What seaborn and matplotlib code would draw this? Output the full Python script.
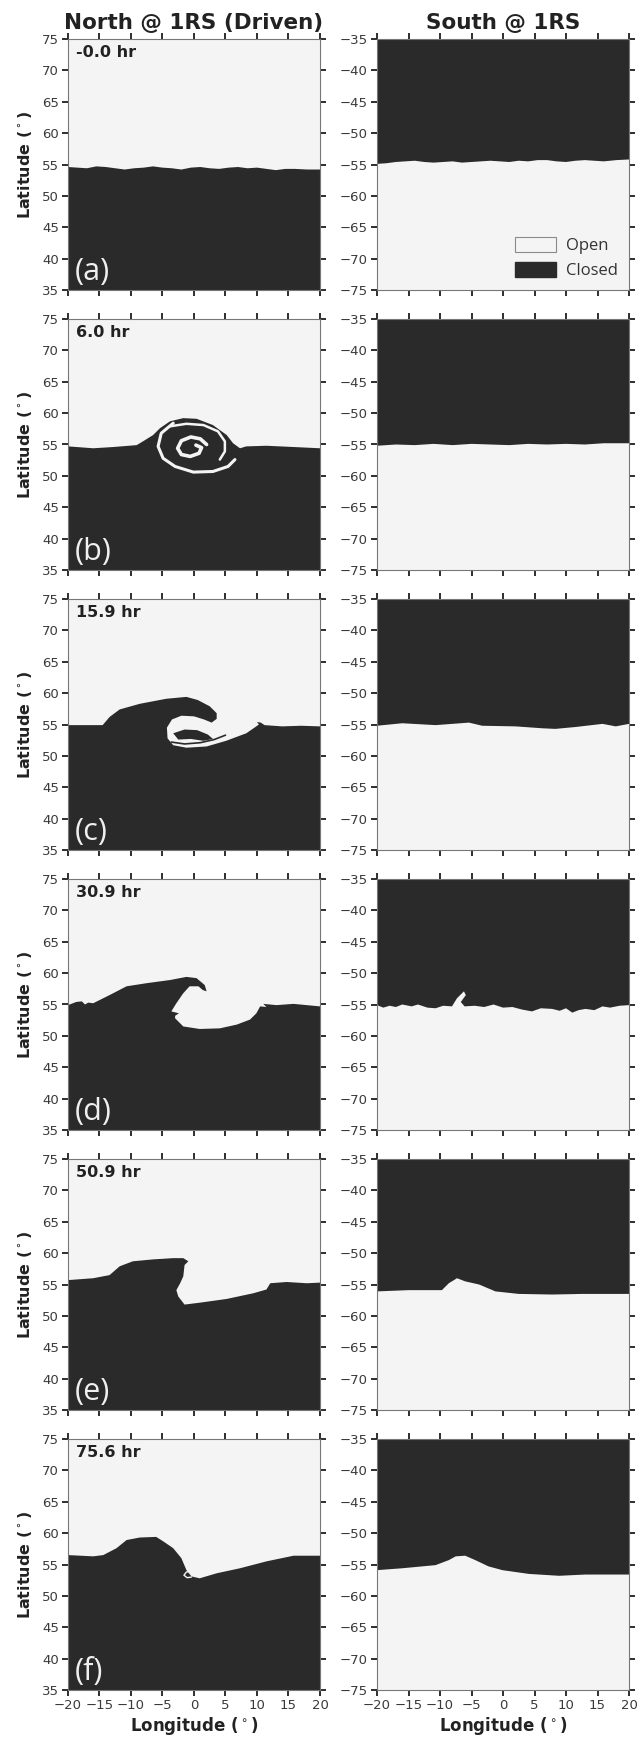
import matplotlib
matplotlib.use("Agg")
import matplotlib.pyplot as plt
import seaborn as sns
from matplotlib.patches import Patch

sns.set_style("ticks")
plt.rcParams["font.family"] = ["DejaVu Sans"]

OPEN = "#f4f4f4"
CLOSED = "#2a2a2a"

# ---- panel annotations ----
times = ["-0.0 hr", "6.0 hr", "15.9 hr", "30.9 hr", "50.9 hr", "75.6 hr"]
letters = ["(a)", "(b)", "(c)", "(d)", "(e)", "(f)"]
lon_ticks = [-20, -15, -10, -5, 0, 5, 10, 15, 20]
north_lat_ticks = [35, 40, 45, 50, 55, 60, 65, 70, 75]
south_lat_ticks = [-75, -70, -65, -60, -55, -50, -45, -40, -35]

# ---- north hemisphere open/closed boundary (lon, lat), closed lies below ----
na_lon = [-20, -18.5, -17, -15.5, -14, -12.5, -11, -9.5, -8, -6.5, -5, -3.5, -2, -0.5, 1, 2.5,
          4, 5.5, 7, 8.5, 10, 11.5, 13, 14.5, 16, 18, 20]
na_lat = [54.6, 54.5, 54.4, 54.7, 54.6, 54.4, 54.2, 54.4, 54.5, 54.7, 54.5, 54.4, 54.2, 54.5,
          54.6, 54.4, 54.3, 54.5, 54.6, 54.4, 54.5, 54.3, 54.1, 54.3, 54.3, 54.2, 54.2]

nb_lon = [-20, -16.0, -12.8, -9.1, -8.1, -6.5, -5.4, -3.8, -1.7, 0.4, 3.0, 5.2, 6.2, 7.3, 8.3, 11.5, 15.8, 20]
nb_lat = [54.7, 54.4, 54.6, 54.9, 55.5, 56.5, 57.6, 58.7, 59.2, 59.1, 58.1, 56.5, 55.2, 54.4, 54.7, 54.8, 54.6, 54.4]

nc_lon = [-20, -14.5, -13.4, -11.8, -8.6, -4.4, -1.2, 0.6, 2.5, 3.6, 3.6, 2.8,
          1.6, 0.0, -2.0, -3.5, -4.3, -4.2, -3.3, -1.2, 2.0, 5.1, 8.3, 9.6, 10.3, 10.0,
          10.6, 11.2, 14, 17, 20]
nc_lat = [54.9, 54.9, 56.2, 57.4, 58.3, 59.1, 59.4, 58.9, 57.9, 56.8, 55.9, 55.3,
          55.8, 56.3, 56.4, 55.8, 54.5, 52.8, 51.7, 51.3, 51.5, 52.4, 53.6, 54.5, 55.0, 55.4,
          55.3, 54.9, 54.7, 54.8, 54.7]

nd_lon = [-20, -18.7, -17.8, -17.3, -16.8, -16.0, -13.4, -10.7, -7.5, -3.8, -1.2, 0.4, 1.7, 2.0,
          1.4, 0.7, -0.7, -1.7, -2.8, -3.6, -2.4, -3.0, -3.0, -1.7, 0.9, 4.1, 6.8, 8.9, 9.9,
          10.5, 11.5, 11.0, 13.1, 15.8, 17.9, 20]
nd_lat = [54.9, 55.4, 55.5, 55.0, 55.3, 55.2, 56.5, 57.9, 58.4, 58.9, 59.4, 59.2, 58.1, 57.1,
          57.3, 57.9, 57.9, 56.8, 55.2, 53.9, 53.6, 53.2, 52.8, 51.5, 51.1, 51.2, 51.8, 52.6, 53.6,
          54.7, 54.6, 55.1, 54.9, 55.1, 54.9, 54.7]

ne_lon = [-20, -16.0, -13.4, -11.8, -9.7, -6.5, -3.3, -1.7, -0.9, -1.5, -1.7, -2.2, -2.8,
          -2.5, -1.5, 0.9, 5.2, 9.4, 11.5, 12.1, 14.7, 17.9, 20]
ne_lat = [55.7, 56.0, 56.5, 57.9, 58.7, 59.0, 59.2, 59.2, 58.7, 58.1, 56.3, 55.2, 54.1,
          53.1, 51.8, 52.1, 52.7, 53.6, 54.2, 55.2, 55.4, 55.2, 55.3]

nf_lon = [-20, -16.0, -14.4, -12.3, -10.7, -8.6, -6.0, -4.9, -3.3, -2.0, -1.2, -0.4, 0.9,
          3.6, 7.3, 11.5, 15.8, 20]
nf_lat = [56.5, 56.3, 56.5, 57.6, 58.9, 59.3, 59.4, 58.7, 57.6, 56.0, 54.1, 53.1, 52.8,
          53.6, 54.4, 55.5, 56.4, 56.4]

# open filaments embedded in the closed region
nb_ring_lon = [-3.3, -5.2, -5.7, -4.9, -3.0, -0.1, 3.0, 5.4, 6.5]
nb_ring_lat = [58.4, 56.8, 54.7, 52.8, 51.5, 50.6, 50.7, 51.5, 52.6]
nb_arc_lon = [-3.8, -1.2, 1.5, 3.8, 4.9, 4.9, 4.1]
nb_arc_lat = [57.9, 58.3, 58.1, 57.1, 55.5, 53.9, 52.6]
nb_core_lon = [2.0, 1.0, -0.5, -2.0, -2.6, -2.0, -0.6, 0.8, 1.2, 0.3]
nb_core_lat = [55.0, 55.9, 56.2, 55.6, 54.4, 53.4, 53.1, 53.6, 54.5, 54.9]

# closed strands inside the 15.9 hr cavity
nc_strand_lon = [-3.3, -1.5, 0.5, 2.2, 3.0, 1.5, -0.5, -2.5]
nc_strand_lat = [53.6, 54.2, 54.1, 53.4, 52.7, 52.4, 52.7, 52.6]
nc_fil_lon = [-3.6, -1.5, 1.0, 3.2, 5.0]
nc_fil_lat = [52.2, 51.9, 52.1, 52.6, 53.3]

ne_curl_lon = [-1.6, -1.2, -1.3, -1.8, -1.6]
ne_curl_lat = [55.6, 55.2, 54.5, 54.8, 55.2]
nf_curl_lon = [-0.6, -1.2, -1.6, -1.1, -0.4]
nf_curl_lat = [53.9, 53.8, 53.3, 52.9, 53.0]

# ---- south hemisphere boundary (lon, lat), closed lies above ----
sa_lon = [-20, -18.5, -17, -15.5, -14, -12.5, -11, -9.5, -8, -6.5, -5, -3.5, -2, -0.5, 1, 2.5,
          4, 5.5, 7, 8.5, 10, 11.5, 13, 14.5, 16, 18, 20]
sa_lat = [-54.9, -54.8, -54.6, -54.5, -54.4, -54.6, -54.7, -54.6, -54.5, -54.7, -54.6, -54.5,
          -54.4, -54.5, -54.6, -54.4, -54.5, -54.3, -54.3, -54.5, -54.6, -54.4, -54.3, -54.4,
          -54.5, -54.3, -54.2]

sb_lon = [-20, -17, -14, -11, -8, -5, -2, 1, 4, 7, 10, 13, 16, 20]
sb_lat = [-55.2, -55.0, -55.1, -54.9, -55.1, -54.9, -55.0, -55.1, -54.9, -55.0, -54.9, -55.0, -54.8, -54.8]

sc_lon = [-20, -16.0, -10.7, -5.4, -3.3, 2.0, 6.2, 8.3, 11.5, 15.8, 17.9, 20]
sc_lat = [-55.2, -54.8, -55.1, -54.7, -55.2, -55.3, -55.6, -55.7, -55.4, -54.9, -55.3, -54.9]

sd_lon = [-20, -19, -18, -17, -16, -14.5, -13.5, -12, -10.7, -9.5, -8.1, -7.3, -6.2, -5.9,
          -6.7, -6.1, -4.5, -3, -1.5, 0, 1.5, 3, 4.6, 6, 7.8, 9, 10, 11, 12, 13.1, 14.5,
          15.8, 17, 18.5, 20]
sd_lat = [-55.1, -55.5, -55.2, -55.4, -55.0, -55.3, -55.0, -55.5, -55.6, -55.2, -55.3, -54.0,
          -52.9, -53.5, -54.6, -55.3, -55.2, -55.4, -55.0, -55.5, -55.4, -55.8, -56.1, -55.6,
          -55.7, -56.0, -55.6, -56.3, -55.9, -55.7, -55.9, -55.3, -55.5, -55.2, -55.1]

se_lon = [-20, -15.0, -9.7, -8.6, -7.3, -6.0, -3.8, -1.2, 2.5, 7.8, 12.6, 20]
se_lat = [-56.1, -55.9, -55.9, -54.8, -54.0, -54.5, -55.0, -56.1, -56.5, -56.6, -56.5, -56.5]

sf_lon = [-20, -16.0, -10.7, -8.6, -7.5, -6.0, -4.4, -2.3, -0.1, 4.1, 8.9, 13.1, 20]
sf_lat = [-55.9, -55.6, -55.1, -54.3, -53.7, -53.6, -54.3, -55.3, -55.9, -56.5, -56.8, -56.6, -56.6]

north = [(na_lon, na_lat), (nb_lon, nb_lat), (nc_lon, nc_lat),
         (nd_lon, nd_lat), (ne_lon, ne_lat), (nf_lon, nf_lat)]
south = [(sa_lon, sa_lat), (sb_lon, sb_lat), (sc_lon, sc_lat),
         (sd_lon, sd_lat), (se_lon, se_lat), (sf_lon, sf_lat)]

# open filaments per north panel: (lon, lat, linewidth)
north_open_lines = {
    1: [(nb_ring_lon, nb_ring_lat, 2.2), (nb_arc_lon, nb_arc_lat, 1.8), (nb_core_lon, nb_core_lat, 2.6)],
    4: [(ne_curl_lon, ne_curl_lat, 1.0)],
    5: [(nf_curl_lon, nf_curl_lat, 1.0)],
}

# ---- figure layout (pixels) ----
W, H = 638, 1739
fig = plt.figure(figsize=(W / 100, H / 100), dpi=100)
fig.patch.set_facecolor("white")
tops = [39, 319, 599, 879, 1159, 1439]
PW, PH = 252, 251
col_x = [68, 377]


def style_axes(ax, ylim, yticks, bottom_row):
    ax.set_facecolor(OPEN)
    ax.set_xlim(-20, 20)
    ax.set_ylim(*ylim)
    ax.set_xticks(lon_ticks)
    ax.set_yticks(yticks)
    ax.tick_params(axis="both", direction="out", length=4.5, width=1.4, color="#2e2e2e",
                   top=True, right=True, bottom=True, left=True,
                   labelsize=9.5, labelcolor="#3a3a3a", pad=2,
                   labelbottom=bottom_row, labeltop=False, labelright=False)
    for sp in ax.spines.values():
        sp.set_color("#777777")
        sp.set_linewidth(0.8)
    ax.set_xlabel("")
    ax.set_ylabel("")


for i in range(6):
    bottom = 1 - (tops[i] + PH) / H
    axn = fig.add_axes([col_x[0] / W, bottom, PW / W, PH / H])
    axs = fig.add_axes([col_x[1] / W, bottom, PW / W, PH / H])

    lon, lat = north[i]
    axn.fill(list(lon) + [20, -20], list(lat) + [35, 35], color=CLOSED, lw=0)
    if i == 2:
        axn.fill(nc_strand_lon, nc_strand_lat, color=CLOSED, lw=0)
        sns.lineplot(x=nc_fil_lon, y=nc_fil_lat, sort=False, estimator=None,
                     color=CLOSED, lw=1.2, ax=axn)
    for flon, flat, lw in north_open_lines.get(i, []):
        sns.lineplot(x=flon, y=flat, sort=False, estimator=None,
                     color=OPEN, lw=lw, ax=axn)

    lon, lat = south[i]
    axs.fill(list(lon) + [20, -20], list(lat) + [-35, -35], color=CLOSED, lw=0)

    last = i == 5
    style_axes(axn, (35, 75), north_lat_ticks, last)
    style_axes(axs, (-75, -35), south_lat_ticks, last)

    axn.text(0.03, 0.975, times[i], transform=axn.transAxes, ha="left", va="top",
             fontsize=11.5, fontweight="bold", color="#222222")
    axn.text(0.025, 0.01, letters[i], transform=axn.transAxes, ha="left", va="bottom",
             fontsize=22, color="#f0f0f0", family="Open Sans")
    axn.set_ylabel("Latitude ($^\\circ$)", fontsize=11.5, fontweight="bold",
                   color="#222222", labelpad=6)

    if i == 0:
        axn.set_title("North @ 1RS (Driven)", fontsize=15.5, fontweight="bold",
                      color="#222222", pad=7)
        axs.set_title("South @ 1RS", fontsize=15.5, fontweight="bold",
                      color="#222222", pad=7)
        handles = [Patch(facecolor=OPEN, edgecolor="#8a8a8a", lw=0.8),
                   Patch(facecolor=CLOSED, edgecolor=CLOSED)]
        axs.legend(handles, ["Open", "Closed"], loc="lower right", frameon=False,
                   prop={"family": "Open Sans", "size": 12}, handlelength=2.5,
                   handleheight=1.0, labelspacing=0.45, borderaxespad=0.25,
                   handletextpad=0.6, labelcolor="#333333")
    if last:
        for ax in (axn, axs):
            ax.set_xlabel("Longitude ($^\\circ$)", fontsize=12, fontweight="bold",
                          color="#222222", labelpad=2)

fig.savefig("out.png", dpi=100, facecolor="white")
